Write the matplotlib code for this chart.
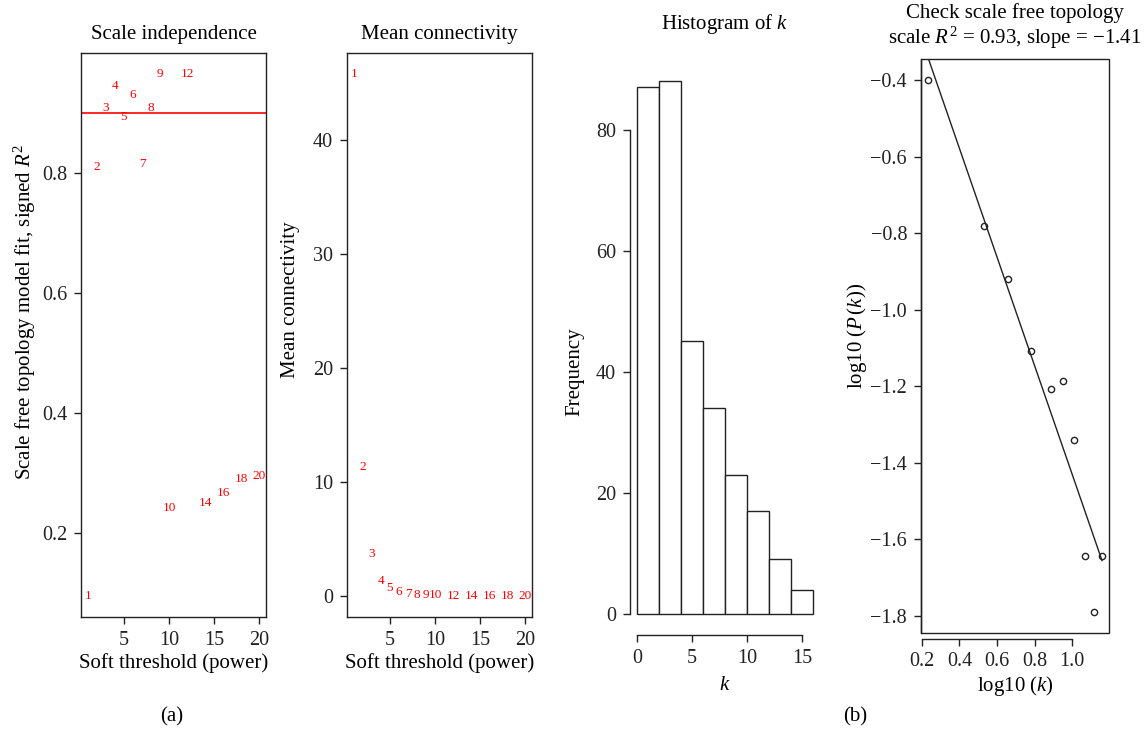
import matplotlib
matplotlib.use("Agg")
import matplotlib.pyplot as plt
from matplotlib.patches import Rectangle
import numpy as np

# Fonte serifada parecida com a do artigo
plt.rcParams['font.family'] = ['Liberation Serif', 'DejaVu Serif']
plt.rcParams['mathtext.fontset'] = 'custom'
plt.rcParams['mathtext.rm'] = 'Liberation Serif'
plt.rcParams['mathtext.it'] = 'Liberation Serif:italic'
plt.rcParams['axes.unicode_minus'] = True

# Dados
powers = [1, 2, 3, 4, 5, 6, 7, 8, 9, 10, 12, 14, 16, 18, 20]
sft_r2 = [0.095, 0.81, 0.908, 0.945, 0.893, 0.93, 0.815, 0.908, 0.965,
          0.242, 0.965, 0.25, 0.267, 0.29, 0.295]
mean_k = [45.8, 11.3, 3.7, 1.35, 0.7, 0.38, 0.22, 0.14, 0.09,
          0.06, 0.03, 0.02, 0.01, 0.01, 0.005]
r2_cut = 0.9

hist_edges = [0, 2, 4, 6, 8, 10, 12, 14, 16]
hist_freq = [87, 88, 45, 34, 23, 17, 9, 4]

log_k = [0.232, 0.531, 0.659, 0.781, 0.888, 0.952, 1.011, 1.069, 1.117, 1.160]
log_pk = [-0.400, -0.781, -0.921, -1.109, -1.208, -1.187, -1.341, -1.644, -1.790, -1.644]

FS = 15
TICK_FS = 14.5


def r_lim(vals):
    # limites no estilo do R (4% de folga)
    lo, hi = min(vals), max(vals)
    d = (hi - lo) * 0.04
    return lo - d, hi + d


def px_axes(fig, left, right, top, bottom):
    W, H = 1146, 739
    return fig.add_axes([left / W, 1 - bottom / H, (right - left) / W, (bottom - top) / H])


def estilo(ax):
    ax.tick_params(direction='out', length=5, width=1, pad=5, labelsize=TICK_FS, colors='#222222')
    for s in ax.spines.values():
        s.set_linewidth(1.0)
        s.set_color('#222222')


fig = plt.figure(figsize=(11.46, 7.39), dpi=100)

# ---- (a) Scale independence
ax1 = px_axes(fig, 81, 266, 53, 617)
estilo(ax1)
ax1.set_xlim(r_lim(powers))
ax1.set_ylim(r_lim(sft_r2))
for p, v in zip(powers, sft_r2):
    ax1.text(p, v, str(p), color='red', fontsize=9.5, ha='center', va='center')
ax1.axhline(r2_cut, color='red', lw=1.2)
ax1.set_xticks([5, 10, 15, 20])
ax1.set_yticks([0.2, 0.4, 0.6, 0.8])
ax1.set_title('Scale independence', fontsize=FS, pad=10)
ax1.set_xlabel('Soft threshold (power)', fontsize=FS, labelpad=2)
ax1.set_ylabel(r'Scale free topology model fit, signed $R^2$', fontsize=FS, va='center')
ax1.yaxis.set_label_coords((25 - 81) / 185, (617 - 312) / 564)

# ---- (a) Mean connectivity
ax2 = px_axes(fig, 347, 532, 53, 617)
estilo(ax2)
ax2.set_xlim(r_lim(powers))
ax2.set_ylim(r_lim(mean_k))
for p, v in zip(powers, mean_k):
    ax2.text(p, v, str(p), color='red', fontsize=9.5, ha='center', va='center')
ax2.set_xticks([5, 10, 15, 20])
ax2.set_yticks([0, 10, 20, 30, 40])
ax2.set_title('Mean connectivity', fontsize=FS, pad=10)
ax2.set_xlabel('Soft threshold (power)', fontsize=FS, labelpad=2)
ax2.set_ylabel('Mean connectivity', fontsize=FS, va='center')
ax2.yaxis.set_label_coords((291 - 347) / 185, (617 - 300) / 564)

# ---- (b) Histogram of k
ax3 = px_axes(fig, 630, 820, 60, 635)
estilo(ax3)
ax3.bar(hist_edges[:-1], hist_freq, width=np.diff(hist_edges), align='edge',
        facecolor='white', edgecolor='#222222', linewidth=1.0)
ax3.set_xlim(r_lim(hist_edges))
ax3.set_ylim(r_lim([0] + hist_freq))
ax3.spines['top'].set_visible(False)
ax3.spines['right'].set_visible(False)
ax3.spines['left'].set_bounds(0, 80)
ax3.spines['bottom'].set_bounds(0, 15)
ax3.set_xticks([0, 5, 10, 15])
ax3.set_yticks([0, 20, 40, 60, 80])
ax3.set_title('Histogram of $k$', fontsize=FS, pad=22)
ax3.set_xlabel('$k$', fontsize=FS, labelpad=6)
ax3.set_ylabel('Frequency', fontsize=FS, va='center')
ax3.yaxis.set_label_coords((575 - 630) / 190, (635 - 372) / 575)

# ---- (b) Check scale free topology
ax4 = px_axes(fig, 921, 1109, 59, 633)
estilo(ax4)
ax4.plot(log_k, log_pk, 'o', mfc='none', mec='#222222', ms=4.5, mew=1.0)
slope, intercept = np.polyfit(log_k, log_pk, 1)
xs = np.array([min(log_k), max(log_k)])
ax4.plot(xs, intercept + slope * xs, color='#222222', lw=1.0)
ax4.set_xlim(r_lim(log_k))
ax4.set_ylim(r_lim(log_pk))
ax4.add_patch(Rectangle((0, 0), 1, 1, transform=ax4.transAxes, fill=False,
                        lw=1.0, ec='#222222', clip_on=False))
ax4.spines['top'].set_visible(False)
ax4.spines['right'].set_visible(False)
ax4.spines['bottom'].set_position(('outward', 4))
ax4.spines['bottom'].set_bounds(0.2, 1.0)
ax4.set_xticks([0.2, 0.4, 0.6, 0.8, 1.0])
ax4.set_yticks([-0.4, -0.6, -0.8, -1.0, -1.2, -1.4, -1.6, -1.8])
ax4.set_title('Check scale free topology\n' + r'scale $R^2$ = 0.93, slope = −1.41',
              fontsize=FS, pad=11, linespacing=1.1)
ax4.set_xlabel(r'log10 $(k)$', fontsize=FS, labelpad=2)
ax4.set_ylabel(r'log10 $(P\,(k))$', fontsize=FS, va='center')
ax4.yaxis.set_label_coords((857 - 921) / 188, (633 - 336) / 574)

fig.text(172 / 1146, 1 - 717 / 739, '(a)', fontsize=FS, ha='center', va='center')
fig.text(855 / 1146, 1 - 717 / 739, '(b)', fontsize=FS, ha='center', va='center')

fig.savefig('out.png', dpi=100)
